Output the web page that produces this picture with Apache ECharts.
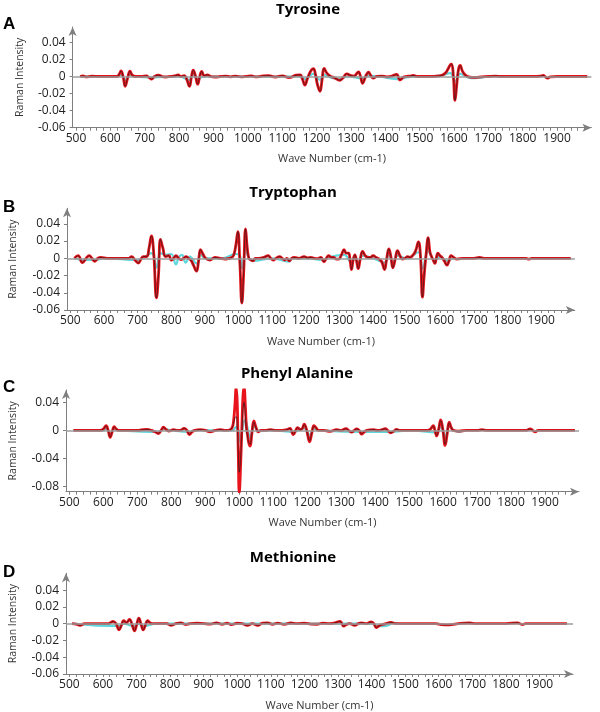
<!DOCTYPE html>
<html><head><meta charset="utf-8">
<script src="https://cdn.jsdelivr.net/npm/echarts@6/dist/echarts.min.js"></script>
<style>html,body{margin:0;padding:0;background:#fff}#c{width:600px;height:712px}</style>
</head><body><div id="c"></div>
<script>
// ---------- DATA ----------
const panelTitles = ['Tyrosine', 'Tryptophan', 'Phenyl Alanine', 'Methionine'];
const panelLetters = ['A', 'B', 'C', 'D'];
const xTickLabels = [500, 600, 700, 800, 900, 1000, 1100, 1200, 1300, 1400, 1500, 1600, 1700, 1800, 1900];
const yTicksStd = [-0.06, -0.04, -0.02, 0, 0.02, 0.04];
const yTicksC = [-0.08, -0.04, 0, 0.04];

// Panel A - Tyrosine
const xA = [512,520,530,545,570,600,620,626,631,637,643,650,657,663,672,690,705,712,720,728,740,750,760,775,790,797,805,815,822,830,836,841,848,854,860,866,873,882,892,905,920,935,950,965,980,995,1010,1025,1040,1060,1080,1100,1120,1140,1152,1159,1166,1173,1180,1186,1191,1196,1203,1210,1216,1222,1230,1240,1252,1268,1278,1288,1300,1310,1316,1322,1328,1334,1340,1345,1351,1358,1365,1375,1390,1405,1420,1433,1443,1452,1462,1472,1481,1495,1510,1530,1550,1565,1575,1583,1589,1593,1598,1603,1608,1613,1618,1625,1635,1647,1660,1680,1700,1720,1740,1760,1800,1830,1850,1860,1866,1872,1880,1900,1950,1988];
const redA = [0,0.0006,-0.0004,0.0003,0,0,0,0.003,0.0066,0,-0.0114,-0.002,0.0062,0.002,0,0,0.0006,-0.001,-0.003,0,0.0016,0,-0.0006,0,0.001,0.002,0,0.001,-0.003,-0.0115,0,0.0075,0,-0.009,0,0.006,0.0008,0.002,0,-0.0006,0,0.0005,-0.0004,0.0005,-0.0005,0,0.0006,-0.0005,0.0004,0.001,-0.0006,0.0008,-0.0012,0.0015,0.002,-0.003,-0.01,-0.003,0.004,0.008,0.0092,0.004,-0.01,-0.0175,-0.004,0.0095,0.004,0.0005,-0.0015,-0.0044,-0.001,0.003,0.001,0.0005,0.003,0.0055,0,-0.008,-0.003,0.002,0.005,0.001,-0.002,0,0.0005,-0.0004,0.0005,0.0025,-0.004,-0.001,0,0.0005,0.0012,0,0,0,0.0003,0.0015,0.004,0.009,0.0135,0.0145,0.002,-0.028,-0.01,0.008,0.013,0.006,0.001,-0.0008,-0.001,-0.0005,0,0.0005,0,0,0,0,0.0003,0.0012,-0.0005,-0.002,-0.0005,0,0,0];
const cyanXA = [512,600,625,631,643,657,670,720,800,830,841,854,870,900,1000,1100,1150,1166,1180,1191,1210,1222,1240,1268,1290,1334,1351,1380,1443,1460,1500,1560,1589,1603,1618,1640,1660,1700];
const cyanA = [0,0,0.001,0.002,-0.004,0.002,0,-0.001,0,-0.004,0.002,-0.004,0,0,0,0,0,-0.003,0.001,0.003,-0.004,0.002,-0.001,-0.003,0,-0.002,0.001,0,-0.003,-0.001,0,0.001,0.004,-0.006,0.003,-0.001,-0.002,0];

// Panel B - Tryptophan
const xB = [512,523,536,547,556,564,572,582,590,610,640,673,682,692,702,710,717,727,734,741,748,756,762,768,775,783,793,800,807,814,822,829,837,844,851,858,866,875,881,887,894,902,915,930,945,960,972,980,986,992,998,1004,1010,1015,1021,1026,1031,1037,1043,1050,1060,1075,1088,1096,1103,1112,1122,1130,1137,1144,1151,1158,1166,1180,1195,1205,1215,1225,1234,1245,1254,1261,1268,1276,1283,1290,1298,1306,1314,1320,1327,1332,1336,1341,1346,1351,1356,1362,1369,1377,1385,1392,1400,1409,1418,1426,1434,1440,1447,1453,1459,1466,1473,1480,1488,1495,1503,1510,1517,1526,1535,1541,1547,1552,1558,1564,1569,1574,1579,1584,1588,1593,1599,1605,1612,1620,1626,1632,1640,1649,1668,1700,1717,1730,1800,1855,1863,1872,1920,1988];
const redB = [0,0.003,-0.005,0,0.003,0,-0.0035,0,0.001,0,0,0,0.002,-0.002,-0.0055,-0.001,0.002,0.002,0.012,0.026,0.005,-0.046,-0.02,0.022,0.012,0.002,0.003,-0.002,0,0.003,0,-0.0015,0,0.002,0,-0.002,-0.008,-0.015,-0.004,0.01,0.005,0,-0.002,0.001,0,-0.001,0,0.001,0.004,0.015,0.031,-0.005,-0.052,-0.02,0.034,0.012,0,-0.002,-0.003,0,0,0.001,0.003,0,-0.002,0,0.002,0,-0.002,0,-0.003,0,0.001,0,0.002,0.0005,0.001,0,-0.0005,0.001,-0.004,0,0.003,0.001,0.001,-0.001,-0.001,0.004,0.01,0.006,0.006,-0.003,-0.013,-0.002,0.004,-0.003,-0.012,-0.001,0.008,0.003,0.001,0.001,0.003,0.001,-0.001,-0.004,-0.013,-0.002,0.011,0.002,-0.011,-0.001,0.009,0.003,-0.001,0,0.002,0.001,0.003,0.008,0.019,0.003,-0.045,-0.02,0.005,0.024,0.008,0.002,-0.002,-0.006,0,0.006,0.003,0.001,-0.003,-0.008,-0.003,0.003,0.001,-0.001,0,0,0.001,0,0,0,-0.001,0,0,0];
const cyanXB = [512,536,572,600,700,741,756,768,785,800,814,822,832,843,855,875,887,902,950,992,1004,1012,1021,1031,1043,1100,1151,1160,1200,1254,1268,1314,1336,1346,1356,1369,1400,1434,1447,1459,1473,1500,1535,1547,1564,1584,1600,1620,1640,1655,1670];
const cyanB = [0,-0.002,-0.002,0,-0.002,0.006,-0.011,0.006,0.004,0.005,-0.007,0.001,0.004,-0.005,0.002,-0.006,0.004,0,0,0.005,0.003,-0.012,0.012,0,-0.003,0,-0.004,0,0,-0.002,0.001,0.004,-0.005,0.001,-0.005,0.003,0,-0.005,0.004,-0.005,0.003,0,0.007,-0.012,0.008,-0.003,0.002,-0.003,0,-0.001,0];

// Panel C - Phenyl Alanine
const xC = [512,550,590,600,608,614,620,626,632,638,644,680,700,715,728,742,752,762,770,777,785,792,807,818,826,838,846,853,861,869,885,900,914,930,945,960,973,979,983,987,991,994,997,1000,1004,1008,1011,1014,1018,1021,1024,1028,1032,1037,1043,1049,1056,1065,1075,1091,1110,1125,1140,1149,1159,1166,1172,1180,1186,1191,1197,1202,1207,1213,1220,1227,1233,1248,1267,1287,1300,1314,1322,1331,1338,1346,1353,1360,1368,1375,1395,1409,1420,1429,1437,1446,1455,1463,1473,1500,1530,1555,1563,1571,1576,1581,1587,1593,1599,1606,1612,1618,1624,1630,1645,1670,1700,1714,1730,1800,1845,1856,1864,1871,1880,1920,1988];
const redC = [0,0,0,0.002,0.0067,0,-0.01,-0.002,0.0053,0.002,0,0,0,0.001,0.0015,0,-0.002,-0.0045,0,0.0045,0.001,-0.001,0.001,0,0,0.003,0,-0.006,-0.002,0,0.001,0,-0.002,0,0.001,0,0.001,0.004,0.0125,0.035,0.062,0.04,-0.03,-0.09,-0.05,0.01,0.05,0.062,0.035,0.005,-0.005,-0.018,-0.0225,-0.005,0.0135,0.005,-0.002,0,0,0.001,0,0,0.001,0.003,-0.006,0,0.004,0.001,0.003,0.009,0.003,-0.008,-0.0163,-0.005,0.007,0.003,0,0,-0.0015,0.001,0,0.0025,0,-0.0025,0,0.002,0,-0.0053,-0.002,0,0.001,0,0.001,0.0024,0,-0.0034,-0.001,0.0014,0,0,0,0,0.002,0.0067,0,-0.008,0.002,0.015,0.002,-0.0216,-0.005,0.012,0.004,0,-0.001,0,0,0.001,0,0,0,0.002,0,-0.002,0,0,0];
const blackC = [0,0,0,0.002,0.0065,0,-0.0095,-0.002,0.005,0.002,0,0,0,0.001,0.0015,0,-0.002,-0.0043,0,0.0043,0.001,-0.001,0.001,0,0,0.003,0,-0.0058,-0.002,0,0.001,0,-0.002,0,0.001,0,0.001,0.004,0.01,0.018,0.02,0.005,-0.03,-0.06,-0.04,0,0.03,0.04,0.02,0,-0.008,-0.018,-0.02,-0.005,0.012,0.004,-0.002,0,0,0.001,0,0,0.001,0.003,-0.0055,0,0.004,0.001,0.003,0.0085,0.003,-0.0075,-0.015,-0.005,0.0065,0.003,0,0,-0.0015,0.001,0,0.0025,0,-0.0025,0,0.002,0,-0.005,-0.002,0,0.001,0,0.001,0.0022,0,-0.0032,-0.001,0.0014,0,0,0,0,0.002,0.006,0,-0.0075,0.002,0.014,0.002,-0.02,-0.005,0.011,0.004,0,-0.001,0,0,0.001,0,0,0,0.002,0,-0.002,0,0,0];
const cyanXC = [512,600,608,620,632,650,762,777,800,853,870,980,991,1000,1004,1010,1017,1028,1032,1043,1056,1100,1159,1191,1207,1220,1240,1360,1446,1500,1581,1593,1606,1618,1630,1645,1660];
const cyanC = [0,0,0.003,-0.005,0.002,0,-0.002,0.002,0,-0.002,0,0,0.005,-0.005,-0.018,0.004,0.015,-0.005,-0.012,0.006,0,0,-0.002,0.003,-0.006,0.002,0,-0.002,-0.002,0,-0.003,0.005,-0.008,0.006,0.001,-0.002,0];

// Panel D - Methionine
const xD = [508,520,532,545,560,590,615,622,630,639,648,655,662,670,679,686,694,700,707,713,720,727,733,740,747,770,790,802,817,832,846,860,880,900,920,938,955,970,982,1000,1015,1030,1045,1061,1075,1090,1105,1120,1140,1160,1178,1200,1220,1237,1255,1275,1290,1306,1317,1325,1335,1350,1360,1370,1385,1399,1407,1414,1421,1428,1443,1457,1472,1500,1550,1590,1600,1609,1625,1639,1658,1692,1710,1760,1800,1834,1849,1860,1900,1982];
const redD = [0,-0.0005,-0.002,0,0,0,0,0.001,0.0027,0,-0.0074,-0.002,0.0035,0.001,0.005,0,-0.0085,-0.002,0.0066,0,-0.0074,-0.001,0.0035,0.001,0,0,0,-0.002,0,0.001,-0.001,0,0.0005,0,-0.0005,0.001,-0.0008,0.0005,-0.0012,0.0005,0,-0.002,0,-0.002,0.0005,0.001,-0.0008,0.0006,-0.0008,0.0008,0,0.0005,-0.0006,-0.0007,0.0005,0,0.0008,0.0027,-0.003,-0.001,0,-0.002,0,0.001,0,0.002,0,-0.0047,-0.003,-0.0015,0,0.0015,0,0,0,0,-0.0005,-0.0012,-0.0014,-0.0012,0,0.0008,0,0,0,0.001,-0.001,0,0,0];
const cyanXD = [508,648,660,694,707,720,760,1400,1414,1435,1450,1465,1480];
const cyanD = [0,-0.003,0,-0.003,0,-0.003,0,0,-0.002,-0.003,-0.002,0.001,0];

// ---------- LAYOUT / STYLE ----------
const panels = [
  {x: xA, red: redA, black: redA, cx: cyanXA, cy: cyanA, yMin: -0.06, yMax: 0.058, yTicks: yTicksStd,
   left: 72.6, top: 27, width: 518.8, height: 100.7, titleX: 308, titleY: 10, letterY: 24, yNameGap: 47},
  {x: xB, red: redB, black: redB, cx: cyanXB, cy: cyanB, yMin: -0.06, yMax: 0.058, yTicks: yTicksStd,
   left: 59.3, top: 208.3, width: 515.5, height: 101.7, titleX: 293, titleY: 193, letterY: 207, yNameGap: 48},
  {x: xC, red: redC, black: blackC, cx: cyanXC, cy: cyanC, yMin: -0.088, yMax: 0.058, yTicks: yTicksC,
   left: 65.9, top: 390, width: 513.1, height: 101.7, titleX: 297, titleY: 374, letterY: 387, yNameGap: 47},
  {x: xD, red: redD, black: redD, cx: cyanXD, cy: cyanD, yMin: -0.06, yMax: 0.06, yTicks: yTicksStd,
   left: 65.6, top: 573.3, width: 507.4, height: 103.4, titleX: 293, titleY: 558, letterY: 572, yNameGap: 47}
];

const xMinorTicks = [];
for (let v = 500; v <= 1980; v += 20) xMinorTicks.push(v);

const axisColor = '#7f7f7f';
const textColor = '#222';
const FONT = '"Open Sans", sans-serif';

const grid = [], xAxis = [], yAxis = [], series = [], graphic = [];
panels.forEach((p, i) => {
  grid.push({left: p.left, top: p.top, width: p.width, height: p.height, containLabel: false});
  xAxis.push({
    type: 'value', gridIndex: i, min: 490, max: 2000,
    name: 'Wave Number (cm-1)', nameLocation: 'middle', nameGap: 26,
    nameTextStyle: {fontFamily: FONT, fontSize: 11, color: '#333'},
    axisLine: {show: true, onZero: false, symbol: ['none', 'arrow'], symbolSize: [6, 9], lineStyle: {color: axisColor, width: 1}},
    axisTick: {show: true, customValues: xMinorTicks, length: 3, lineStyle: {color: axisColor}},
    axisLabel: {customValues: xTickLabels, margin: 5, fontFamily: FONT, fontSize: 12, color: textColor,
      formatter: v => String(Math.round(v))},
    splitLine: {show: false}
  });
  yAxis.push({
    type: 'value', gridIndex: i, min: p.yMin, max: p.yMax,
    name: 'Raman Intensity', nameLocation: 'middle', nameGap: p.yNameGap,
    nameTextStyle: {fontFamily: FONT, fontSize: 10.5, color: '#333'},
    axisLine: {show: true, onZero: false, symbol: ['none', 'arrow'], symbolSize: [6, 9], lineStyle: {color: axisColor, width: 1}},
    axisTick: {show: true, customValues: p.yTicks, length: 3, lineStyle: {color: axisColor}},
    axisLabel: {customValues: p.yTicks, margin: 7, fontFamily: FONT, fontSize: 12, color: textColor,
      formatter: v => (Math.abs(v) < 1e-9 ? '0' : v.toFixed(2))},
    splitLine: {show: false}
  });
  series.push({
    type: 'line', xAxisIndex: i, yAxisIndex: i, showSymbol: false, smooth: 0.45,
    data: p.cx.map((x, j) => [x, p.cy[j]]),
    lineStyle: {color: '#5ed8dc', width: 2.2}, z: 2,
    markLine: {silent: true, symbol: ['none', 'none'], label: {show: false},
      lineStyle: {color: '#9d9d9d', width: 1.5, type: 'solid'}, data: [{yAxis: 0}]}
  });
  series.push({
    type: 'line', xAxisIndex: i, yAxisIndex: i, showSymbol: false, smooth: 0.45,
    data: p.x.map((x, j) => [x, p.red[j]]),
    lineStyle: {color: '#e8141c', width: 2.8}, z: 3
  });
  series.push({
    type: 'line', xAxisIndex: i, yAxisIndex: i, showSymbol: false, smooth: 0.45,
    data: p.x.map((x, j) => [x, p.black[j]]),
    lineStyle: {color: '#2a1a1a', width: 0.7}, z: 4
  });
  graphic.push({type: 'text', style: {
    text: panelTitles[i], x: p.titleX, y: p.titleY, fill: '#000', font: 'bold 15px "Open Sans", sans-serif',
    textAlign: 'center', textVerticalAlign: 'middle'}});
  graphic.push({type: 'text', style: {
    text: panelLetters[i], x: 3, y: p.letterY, fill: '#000', font: 'bold 17px "Liberation Sans", Arial, sans-serif',
    textAlign: 'left', textVerticalAlign: 'middle'}});
});

const chart = echarts.init(document.getElementById('c'), null, {renderer: 'canvas'});
chart.setOption({
  animation: false,
  backgroundColor: '#fff',
  grid, xAxis, yAxis, series, graphic
});
</script>
</body></html>
